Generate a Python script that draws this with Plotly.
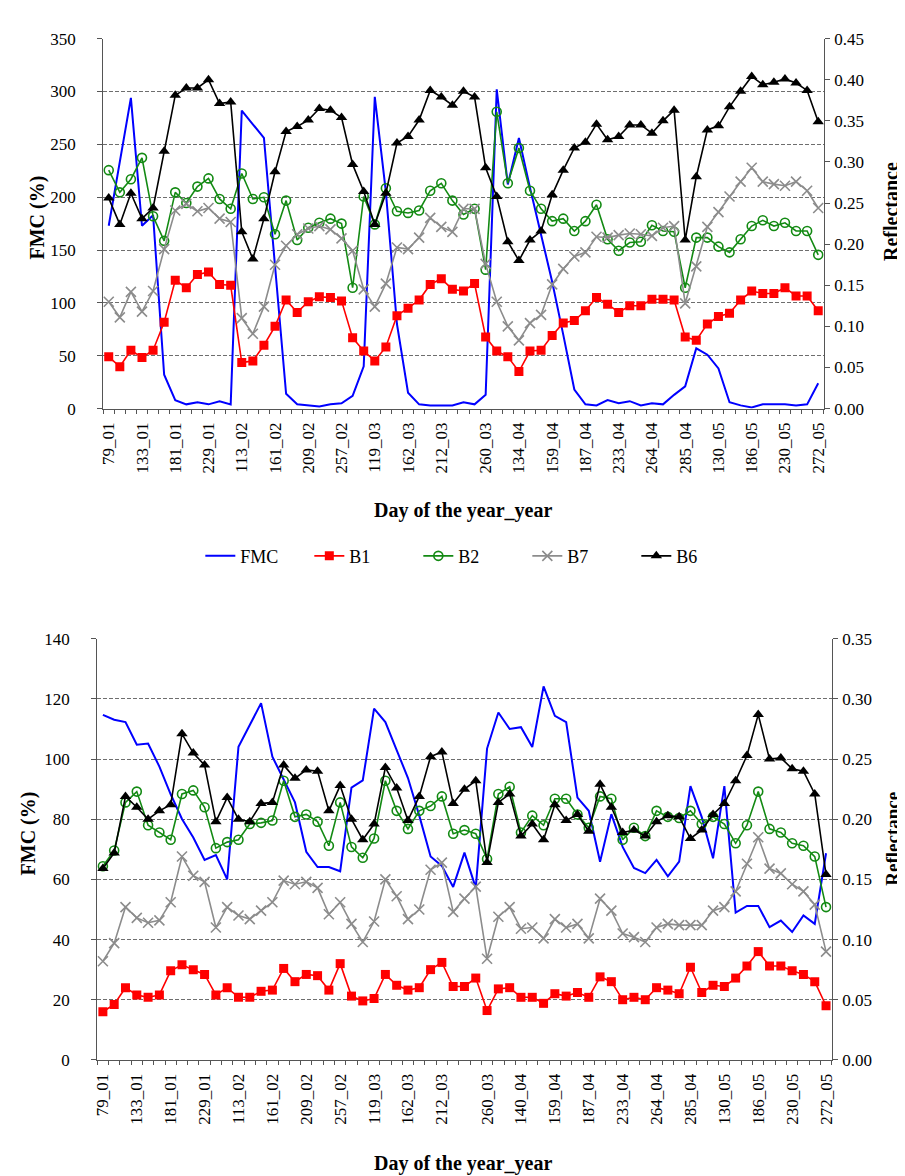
import plotly.graph_objects as go

# ---------------- data ----------------
top_labels = ["79_01", "133_01", "181_01", "229_01", "113_02", "161_02", "209_02", "257_02",
              "119_03", "162_03", "212_03", "260_03", "134_04", "159_04", "187_04", "233_04",
              "264_04", "285_04", "130_05", "186_05", "230_05", "272_05"]
bottom_labels = ["79_01", "133_01", "181_01", "229_01", "113_02", "161_02", "209_02", "257_02",
                 "119_03", "162_03", "212_03", "260_03", "140_04", "159_04", "187_04", "233_04",
                 "264_04", "285_04", "130_05", "186_05", "230_05", "272_05"]
# index of the observation carrying each label
label_index = [0, 3, 6, 9, 12, 15, 18, 21, 24, 27, 30, 34, 37, 40, 43, 46, 49, 52, 55, 58, 61, 64]

top_fmc = [173, 234, 294, 173, 183, 32, 8, 4, 6, 4, 7, 4, 282, 269, 256, 135, 14, 4, 3, 2,
           4, 5, 12, 40, 295, 205, 80, 15, 4, 3, 3, 3, 6, 4, 13, 302, 212, 256, 209, 165,
           120, 70, 18, 4, 3, 8, 5, 7, 3, 5, 4, 13, 21, 57, 51, 38, 6, 3, 1, 4,
           4, 4, 3, 4, 24]
top_b1 = [0.063, 0.051, 0.071, 0.062, 0.071, 0.105, 0.156, 0.147, 0.163, 0.166,
          0.151, 0.150, 0.056, 0.058, 0.077, 0.100, 0.132, 0.117, 0.130, 0.136,
          0.135, 0.131, 0.086, 0.070, 0.058, 0.075, 0.113, 0.122, 0.132, 0.151,
          0.158, 0.145, 0.143, 0.152, 0.087, 0.070, 0.063, 0.045, 0.070, 0.071,
          0.089, 0.104, 0.107, 0.119, 0.135, 0.127, 0.117, 0.125, 0.125, 0.133,
          0.133, 0.132, 0.087, 0.083, 0.103, 0.112, 0.116, 0.132, 0.143, 0.140,
          0.140, 0.147, 0.137, 0.137, 0.119]
top_b2 = [0.290, 0.263, 0.279, 0.305, 0.234, 0.204, 0.263, 0.250, 0.270, 0.280,
          0.255, 0.243, 0.286, 0.255, 0.257, 0.212, 0.253, 0.205, 0.220, 0.226,
          0.231, 0.225, 0.147, 0.258, 0.224, 0.268, 0.240, 0.238, 0.241, 0.265,
          0.274, 0.253, 0.236, 0.243, 0.169, 0.361, 0.274, 0.317, 0.265, 0.243,
          0.228, 0.231, 0.216, 0.228, 0.248, 0.206, 0.192, 0.202, 0.203, 0.223,
          0.216, 0.215, 0.147, 0.208, 0.208, 0.197, 0.190, 0.206, 0.222, 0.229,
          0.222, 0.226, 0.216, 0.216, 0.187]
top_b7 = [0.130, 0.111, 0.142, 0.118, 0.143, 0.194, 0.241, 0.249, 0.240, 0.244,
          0.231, 0.227, 0.110, 0.091, 0.124, 0.175, 0.198, 0.212, 0.219, 0.222,
          0.218, 0.207, 0.192, 0.145, 0.124, 0.152, 0.196, 0.194, 0.208, 0.232,
          0.221, 0.215, 0.243, 0.243, 0.176, 0.130, 0.100, 0.083, 0.104, 0.114,
          0.151, 0.170, 0.185, 0.190, 0.209, 0.208, 0.211, 0.213, 0.212, 0.210,
          0.220, 0.222, 0.128, 0.173, 0.221, 0.239, 0.258, 0.276, 0.293, 0.276,
          0.273, 0.271, 0.276, 0.265, 0.244]
top_b6 = [0.256, 0.224, 0.262, 0.231, 0.244, 0.313, 0.381, 0.390, 0.390, 0.400,
          0.371, 0.373, 0.215, 0.182, 0.231, 0.288, 0.337, 0.343, 0.351, 0.365,
          0.363, 0.354, 0.297, 0.264, 0.224, 0.262, 0.323, 0.331, 0.351, 0.387,
          0.379, 0.369, 0.386, 0.379, 0.293, 0.258, 0.203, 0.180, 0.205, 0.216,
          0.260, 0.290, 0.317, 0.324, 0.346, 0.327, 0.331, 0.345, 0.345, 0.335,
          0.350, 0.363, 0.205, 0.282, 0.339, 0.344, 0.367, 0.386, 0.404, 0.394,
          0.397, 0.401, 0.396, 0.387, 0.349]

bottom_fmc = [114.7, 113.1, 112.3, 104.8, 105.2, 97.5, 88.3, 80.1, 73.9, 66.5,
              68.1, 60.0, 104.1, 111.2, 118.6, 100.8, 93.2, 85.6, 69.2, 64.1,
              64.1, 62.7, 90.5, 92.9, 116.8, 112.3, 103.0, 93.7, 81.2, 67.6,
              64.5, 57.5, 68.9, 57.2, 103.5, 115.5, 110.0, 110.6, 104.0, 124.2,
              114.4, 112.3, 87.2, 82.8, 65.9, 81.7, 70.8, 63.8, 62.1, 66.5,
              61.0, 65.9, 91.0, 80.7, 67.0, 91.0, 49.0, 51.2, 51.2, 44.1,
              46.3, 42.5, 48.0, 45.2, 68.7]
bottom_b1 = [0.040, 0.046, 0.060, 0.054, 0.052, 0.054, 0.074, 0.079, 0.075, 0.071,
             0.054, 0.060, 0.052, 0.052, 0.057, 0.058, 0.076, 0.065, 0.071, 0.070,
             0.058, 0.080, 0.053, 0.049, 0.051, 0.071, 0.062, 0.058, 0.060, 0.075,
             0.081, 0.061, 0.061, 0.068, 0.041, 0.059, 0.060, 0.052, 0.052, 0.047,
             0.055, 0.053, 0.056, 0.052, 0.069, 0.065, 0.050, 0.052, 0.050, 0.060,
             0.058, 0.055, 0.077, 0.056, 0.062, 0.061, 0.068, 0.078, 0.090, 0.078,
             0.078, 0.074, 0.071, 0.065, 0.045]
bottom_b2 = [0.161, 0.174, 0.214, 0.223, 0.195, 0.189, 0.183, 0.221, 0.224, 0.210,
             0.176, 0.181, 0.183, 0.196, 0.197, 0.199, 0.232, 0.202, 0.204, 0.198,
             0.178, 0.214, 0.177, 0.168, 0.184, 0.232, 0.207, 0.192, 0.207, 0.211,
             0.219, 0.188, 0.191, 0.188, 0.167, 0.221, 0.227, 0.189, 0.203, 0.195,
             0.217, 0.217, 0.204, 0.193, 0.219, 0.217, 0.183, 0.193, 0.186, 0.207,
             0.202, 0.201, 0.207, 0.196, 0.202, 0.196, 0.180, 0.195, 0.223, 0.192,
             0.189, 0.180, 0.178, 0.169, 0.127]
bottom_b7 = [0.082, 0.097, 0.127, 0.118, 0.114, 0.116, 0.131, 0.169, 0.153, 0.148,
             0.110, 0.127, 0.120, 0.117, 0.124, 0.131, 0.149, 0.146, 0.148, 0.143,
             0.121, 0.131, 0.113, 0.098, 0.115, 0.150, 0.136, 0.117, 0.125, 0.158,
             0.164, 0.123, 0.134, 0.144, 0.084, 0.119, 0.127, 0.109, 0.110, 0.101,
             0.117, 0.110, 0.113, 0.101, 0.134, 0.124, 0.105, 0.102, 0.098, 0.110,
             0.113, 0.112, 0.112, 0.112, 0.124, 0.127, 0.140, 0.163, 0.185, 0.159,
             0.155, 0.146, 0.140, 0.129, 0.090]
bottom_b6 = [0.159, 0.172, 0.219, 0.210, 0.200, 0.207, 0.212, 0.271, 0.255, 0.245,
             0.198, 0.218, 0.200, 0.198, 0.213, 0.214, 0.245, 0.234, 0.241, 0.240,
             0.207, 0.228, 0.200, 0.183, 0.196, 0.243, 0.226, 0.199, 0.219, 0.252,
             0.256, 0.213, 0.225, 0.232, 0.164, 0.214, 0.221, 0.186, 0.196, 0.183,
             0.212, 0.199, 0.204, 0.190, 0.229, 0.210, 0.189, 0.191, 0.186, 0.198,
             0.203, 0.202, 0.184, 0.191, 0.204, 0.213, 0.232, 0.253, 0.287, 0.250,
             0.251, 0.242, 0.240, 0.221, 0.154]

# ---------------- styling ----------------
W, H = 905, 1176
FONT = "'Liberation Serif', 'Times New Roman', 'DejaVu Serif', serif"
C_FMC, C_B1, C_B2, C_B7, C_B6 = "#0000FF", "#FF0000", "#138A13", "#8C8C8C", "#000000"
AXIS_C = "#555555"
GRID_C = "#6E6E6E"

def px_x(a, b):
    return [a / W, b / W]

def px_y(top, bottom):
    return [1 - bottom / H, 1 - top / H]

fig = go.Figure()

def add_panel(xa, ya_left, ya_right, fmc, b1, b2, b7, b6, legend):
    idx = list(range(len(fmc)))
    fig.add_trace(go.Scatter(x=idx, y=fmc, mode="lines", name="FMC",
                             line=dict(color=C_FMC, width=2),
                             xaxis=xa, yaxis=ya_left, showlegend=legend))
    fig.add_trace(go.Scatter(x=idx, y=b1, mode="lines+markers", name="B1",
                             line=dict(color=C_B1, width=1.6),
                             marker=dict(symbol="square", size=9, color=C_B1),
                             xaxis=xa, yaxis=ya_right, showlegend=legend))
    fig.add_trace(go.Scatter(x=idx, y=b2, mode="lines+markers", name="B2",
                             line=dict(color=C_B2, width=1.6),
                             marker=dict(symbol="circle-open", size=9, color=C_B2,
                                         line=dict(width=1.6, color=C_B2)),
                             xaxis=xa, yaxis=ya_right, showlegend=legend))
    fig.add_trace(go.Scatter(x=idx, y=b7, mode="lines+markers", name="B7",
                             line=dict(color=C_B7, width=1.6),
                             marker=dict(symbol="x-thin-open", size=10, color=C_B7,
                                         line=dict(width=1.6, color=C_B7)),
                             xaxis=xa, yaxis=ya_right, showlegend=legend))
    fig.add_trace(go.Scatter(x=idx, y=b6, mode="lines+markers", name="B6",
                             line=dict(color=C_B6, width=1.6),
                             marker=dict(symbol="triangle-up", size=10, color=C_B6),
                             xaxis=xa, yaxis=ya_right, showlegend=legend))

add_panel("x", "y", "y2", top_fmc, top_b1, top_b2, top_b7, top_b6, True)
add_panel("x2", "y3", "y4", bottom_fmc, bottom_b1, bottom_b2, bottom_b7, bottom_b6, False)

tickfont = dict(family=FONT, size=17, color="black")
n = len(top_fmc)

def xaxis_cfg(domain, anchor, labels):
    return dict(domain=domain, anchor=anchor, range=[-0.5, n - 0.5],
                tickmode="array", tickvals=label_index, ticktext=labels,
                tickangle=-90, ticks="", ticklabelstandoff=6,
                tickfont=tickfont, showgrid=False, zeroline=False,
                showline=True, linecolor=AXIS_C, linewidth=1.2,
                minor=dict(tick0=-0.5, dtick=1, ticks="outside", ticklen=4,
                           tickcolor=AXIS_C, tickwidth=1, showgrid=False))

def yleft_cfg(domain, anchor, rng, dt):
    return dict(domain=domain, anchor=anchor, range=rng, dtick=dt, tick0=0,
                ticks="outside", ticklen=5, tickcolor=AXIS_C, tickfont=tickfont,
                ticklabelstandoff=18,
                showline=True, linecolor=AXIS_C, linewidth=1.2,
                showgrid=True, gridcolor=GRID_C, gridwidth=1, griddash="4px,2px",
                zeroline=False)

def yright_cfg(over, anchor, rng, dt):
    return dict(overlaying=over, anchor=anchor, side="right", range=rng, dtick=dt,
                tick0=0, tickformat=".2f", ticks="outside", ticklen=5,
                tickcolor=AXIS_C, tickfont=tickfont, ticklabelstandoff=1,
                showline=True, linecolor=AXIS_C, linewidth=1.2,
                showgrid=False, zeroline=False)

fig.update_layout(
    width=W, height=H, margin=dict(l=0, r=0, t=0, b=0),
    paper_bgcolor="white", plot_bgcolor="white",
    font=dict(family=FONT, color="black"),
    xaxis=xaxis_cfg(px_x(92, 819), "y", top_labels),
    yaxis=yleft_cfg(px_y(22, 398), "x", [0, 350], 50),
    yaxis2=yright_cfg("y", "x", [0, 0.45], 0.05),
    xaxis2=xaxis_cfg(px_x(86, 827), "y3", bottom_labels),
    yaxis3=yleft_cfg(px_y(632, 1060), "x2", [0, 140], 20),
    yaxis4=yright_cfg("y3", "x2", [0, 0.35], 0.05),
    legend=dict(orientation="h", x=190 / W, y=1 - 548 / H, xanchor="left",
                yanchor="middle", font=dict(family=FONT, size=18, color="black"),
                entrywidth=64, bgcolor="rgba(0,0,0,0)"),
)

title_font = dict(family=FONT, size=20, color="black")
annos = [
    ("<b>FMC (%)</b>", 26, 204, -90, 20),
    ("<b>Reflectance</b>", 887, 198, -90, 20),
    ("<b>Day of the year_year</b>", 455, 502, 0, 20),
    ("<b>FMC (%)</b>", 17, 830, -90, 20),
    ("<b>Reflectance</b>", 888, 835, -90, 19),
    ("<b>Day of the year_year</b>", 455, 1165, 0, 20),
]
for text, ax, ay, ang, sz in annos:
    fig.add_annotation(text=text, x=ax / W, y=1 - ay / H, xref="paper", yref="paper",
                       showarrow=False, textangle=ang,
                       font=dict(family=FONT, size=sz, color="black"),
                       xanchor="center", yanchor="middle", borderpad=0)

fig.write_html("out.html")
